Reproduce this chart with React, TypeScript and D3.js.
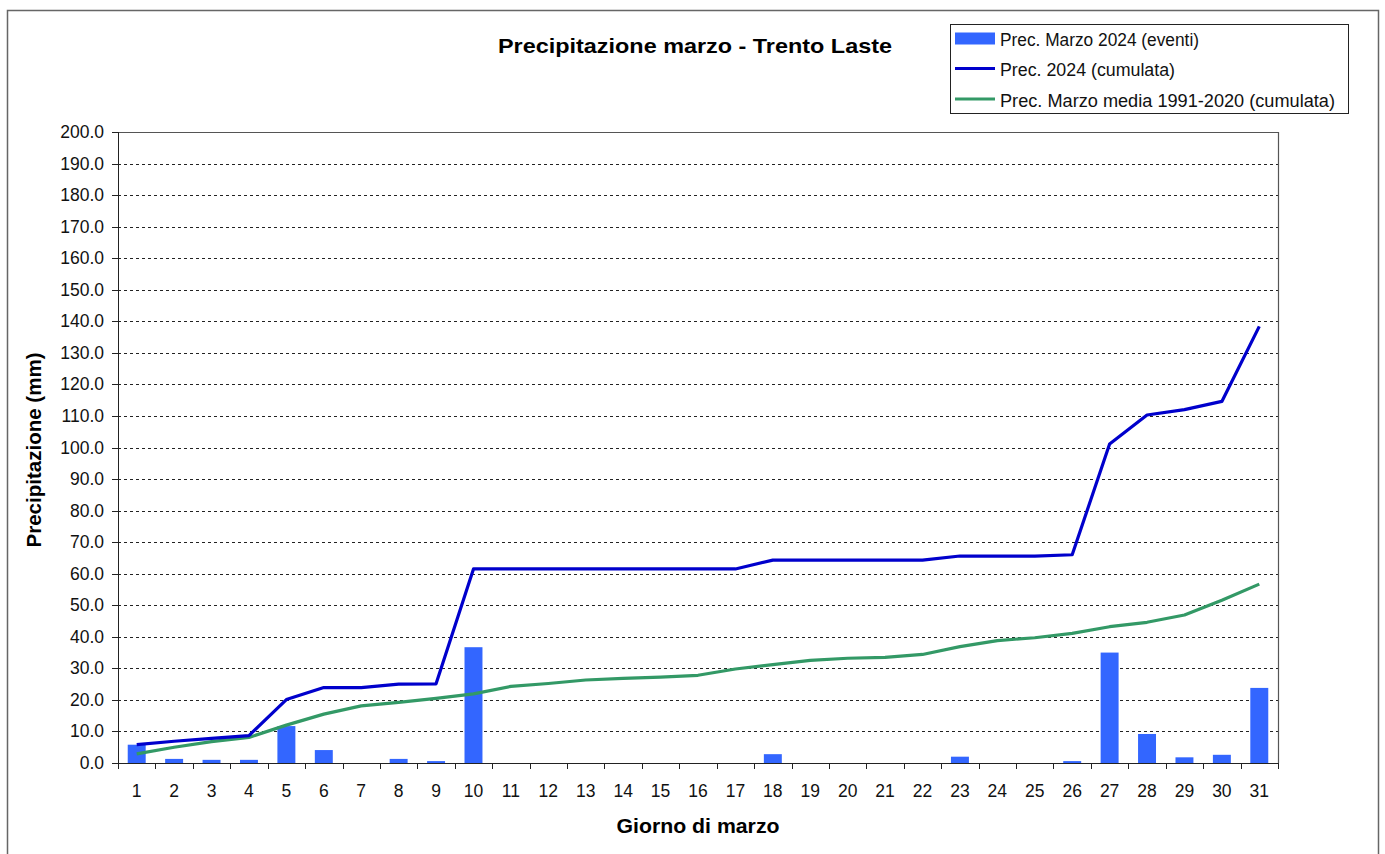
import React from "react";
import * as d3 from "d3";

const days: number[] = Array.from({ length: 31 }, (_, i) => i + 1);
const dailyEvents: number[] = [5.8, 1.3, 1.0, 1.0, 11.7, 4.1, 0, 1.3, 0.6, 36.7, 0, 0, 0, 0, 0, 0, 0, 2.8, 0, 0, 0, 0, 2.0, 0, 0, 0.6, 35.0, 9.2, 1.8, 2.6, 23.8];
const cumulative2024: number[] = [5.8, 6.9, 7.8, 8.7, 20.1, 23.9, 23.9, 25.0, 25.1, 61.5, 61.5, 61.5, 61.5, 61.5, 61.5, 61.5, 61.5, 64.3, 64.3, 64.3, 64.3, 64.3, 65.6, 65.6, 65.6, 66.0, 101.1, 110.3, 112.0, 114.6, 138.4];
const cumulativeMean: number[] = [2.9, 5.0, 6.8, 8.1, 12.0, 15.5, 18.1, 19.2, 20.5, 21.9, 24.3, 25.2, 26.3, 26.8, 27.2, 27.8, 29.8, 31.2, 32.5, 33.2, 33.5, 34.4, 36.9, 38.8, 39.7, 41.1, 43.2, 44.6, 46.9, 51.6, 56.7];
const yTicks: number[] = d3.range(0, 201, 10);
const legendLabels: string[] = ["Prec. Marzo 2024 (eventi)", "Prec. 2024 (cumulata)", "Prec. Marzo media 1991-2020 (cumulata)"];
const legendWidths: number[] = [199, 175, 335];

const W = 1385, H = 854;
const m = { left: 118, right: 1278, top: 132, bottom: 763 };
const BAR = "#3366FF", BLUE = "#0000CC", GREEN = "#339966";
const FONT = "'Liberation Sans', Arial, sans-serif";

export default function App() {
  const x = d3.scaleBand<number>().domain(days).range([m.left, m.right]).padding(0);
  const y = d3.scaleLinear().domain([0, 200]).range([m.bottom, m.top]);
  const cx = (d: number) => (x(d) as number) + x.bandwidth() / 2;
  const line = d3.line<number>().x((_, i) => cx(days[i])).y((v) => y(v));
  const barW = x.bandwidth() * 0.48;

  return (
    <svg width={W} height={H} style={{ position: "fixed", left: 0, top: 0, background: "#fff" }} fontFamily={FONT}>
      <rect x={0} y={0} width={W} height={H} fill="#fff" />
      <rect x={7.5} y={10.5} width={1371} height={860} fill="none" stroke="#666" strokeWidth={1.5} />
      <text x={695} y={53} textAnchor="middle" fontWeight="bold" fontSize={21} textLength={394} lengthAdjust="spacingAndGlyphs">Precipitazione marzo - Trento Laste</text>

      {/* grid */}
      {yTicks.filter((t) => t > 0 && t < 200).map((t) => (
        <line key={"g" + t} x1={m.left} x2={m.right} y1={Math.round(y(t)) + 0.5} y2={Math.round(y(t)) + 0.5} stroke="#222" strokeWidth={1} strokeDasharray="3,3" />
      ))}
      {/* plot frame */}
      <line x1={m.left} x2={m.right} y1={m.top + 0.5} y2={m.top + 0.5} stroke="#555" strokeWidth={1.2} />
      <line x1={m.right + 0.5} x2={m.right + 0.5} y1={m.top} y2={m.bottom} stroke="#555" strokeWidth={1.2} />

      {/* bars */}
      {days.map((d, i) => dailyEvents[i] > 0 ? (
        <rect key={"b" + d} x={cx(d) - barW / 2} y={y(dailyEvents[i])} width={barW} height={y(0) - y(dailyEvents[i])} fill={BAR} />
      ) : null)}

      {/* lines */}
      <path d={line(cumulativeMean) as string} fill="none" stroke={GREEN} strokeWidth={3.2} strokeLinejoin="round" />
      <path d={line(cumulative2024) as string} fill="none" stroke={BLUE} strokeWidth={3.2} strokeLinejoin="round" />

      {/* axes */}
      <line x1={m.left + 0.5} x2={m.left + 0.5} y1={m.top} y2={m.bottom} stroke="#222" strokeWidth={1} />
      <line x1={m.left} x2={m.right + 1} y1={m.bottom + 0.5} y2={m.bottom + 0.5} stroke="#222" strokeWidth={1} />
      {yTicks.map((t) => (
        <g key={"y" + t}>
          <line x1={m.left - 6} x2={m.left} y1={Math.round(y(t)) + 0.5} y2={Math.round(y(t)) + 0.5} stroke="#222" />
          <text x={104} y={y(t) + 6} textAnchor="end" fontSize={17.5} fill="#111">{t.toFixed(1)}</text>
        </g>
      ))}
      {days.concat([32]).map((d, i) => {
        const xx = i < 31 ? (x(d) as number) : m.right;
        return <line key={"xt" + d} x1={Math.round(xx) + 0.5} x2={Math.round(xx) + 0.5} y1={m.bottom} y2={m.bottom + 6} stroke="#222" />;
      })}
      {days.map((d) => (
        <text key={"xl" + d} x={cx(d)} y={797} textAnchor="middle" fontSize={17.5} fill="#111">{d}</text>
      ))}
      <text x={698} y={833} textAnchor="middle" fontWeight="bold" fontSize={20} textLength={163} lengthAdjust="spacingAndGlyphs">Giorno di marzo</text>
      <text transform="translate(41,450) rotate(-90)" textAnchor="middle" fontWeight="bold" fontSize={20} textLength={195} lengthAdjust="spacingAndGlyphs">Precipitazione (mm)</text>

      {/* legend */}
      <rect x={950.5} y={24.5} width={398} height={89} fill="#fff" stroke="#222" strokeWidth={1} />
      <rect x={955} y={32.5} width={40} height={12} fill={BAR} />
      <line x1={955} x2={995} y1={68.5} y2={68.5} stroke={BLUE} strokeWidth={3} />
      <line x1={955} x2={995} y1={99} y2={99} stroke={GREEN} strokeWidth={3} />
      {legendLabels.map((l, i) => (
        <text key={l} x={1000} y={46 + i * 30.3} fontSize={17.5} fill="#111" textLength={legendWidths[i]} lengthAdjust="spacingAndGlyphs">{l}</text>
      ))}
    </svg>
  );
}
